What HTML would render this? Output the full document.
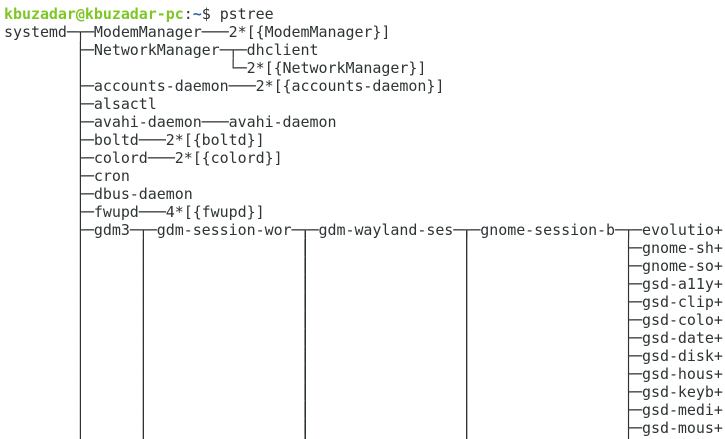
<!DOCTYPE html>
<html><head><meta charset="utf-8"><style>
html,body{margin:0;padding:0;background:#fff;width:725px;height:439px;overflow:hidden;position:relative}
pre{margin:0;padding:5px 0 0 4px;font-family:"DejaVu Sans Mono","Liberation Mono",monospace;font-size:15px;letter-spacing:-0.045px;line-height:18px;color:#2e3436;white-space:pre}
.g{color:#7ec726;font-weight:bold}.b{color:#3465a4;font-weight:bold}
.v{position:absolute;width:1px;background:#2e3436;bottom:0}
</style></head><body><pre><span class="g">kbuzadar@kbuzadar-pc</span>:<span class="b">~</span>$ pstree
systemd─┬─ModemManager───2*[{ModemManager}]
        ├─NetworkManager─┬─dhclient
        │                └─2*[{NetworkManager}]
        ├─accounts-daemon───2*[{accounts-daemon}]
        ├─alsactl
        ├─avahi-daemon───avahi-daemon
        ├─boltd───2*[{boltd}]
        ├─colord───2*[{colord}]
        ├─cron
        ├─dbus-daemon
        ├─fwupd───4*[{fwupd}]
        ├─gdm3─┬─gdm-session-wor─┬─gdm-wayland-ses─┬─gnome-session-b─┬─evolutio+
        │      │                 │                 │                 ├─gnome-sh+
        │      │                 │                 │                 ├─gnome-so+
        │      │                 │                 │                 ├─gsd-a11y+
        │      │                 │                 │                 ├─gsd-clip+
        │      │                 │                 │                 ├─gsd-colo+
        │      │                 │                 │                 ├─gsd-date+
        │      │                 │                 │                 ├─gsd-disk+
        │      │                 │                 │                 ├─gsd-hous+
        │      │                 │                 │                 ├─gsd-keyb+
        │      │                 │                 │                 ├─gsd-medi+
        │      │                 │                 │                 ├─gsd-mous+
        │      │                 │                 │                 │</pre>
<div class="v" style="left:80px;top:33px"></div>
<div class="v" style="left:143px;top:231px"></div>
<div class="v" style="left:305px;top:231px"></div>
<div class="v" style="left:466px;top:231px"></div>
<div class="v" style="left:628px;top:231px"></div>
</body></html>
